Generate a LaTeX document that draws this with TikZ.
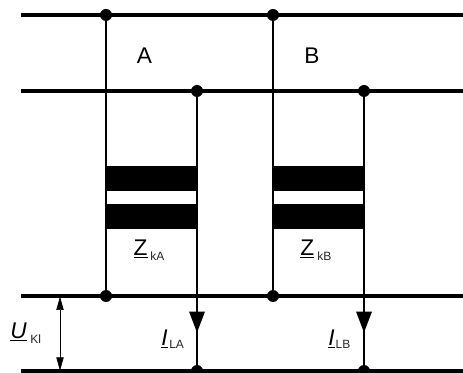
\documentclass[tikz,border=0pt]{standalone}
\usepackage{fontspec}
\setmainfont{Liberation Sans}
\usetikzlibrary{arrows,positioning}
\usetikzlibrary{arrows.meta}
\begin{document}
\begin{tikzpicture}[x=1pt,y=-1pt,>=latex',every node/.append style={align=center},
    bus/.style={line width=2.4pt},wire/.style={line width=1.6pt},
    dot/.style={circle,fill=black,inner sep=0pt,minimum size=9pt},
    plate/.style={fill=black,inner sep=0pt,minimum width=69pt,minimum height=18.75pt},
    lbl/.style={inner sep=0pt,anchor=base west,font=\fontsize{17}{19}\selectfont},
    sublbl/.style={inner sep=0pt,anchor=base west,font=\fontsize{9}{10}\selectfont,text=black!85},
    current/.style={-{Triangle[length=15.75pt,width=11.5pt]}}]
    \useasboundingbox (0,0) rectangle (347.25,279.75);
    % buses
    \coordinate (L1) at (15.75,11.25);
    \coordinate (R1) at (347.25,11.25);
    \coordinate (L2) at (15.75,68.25);
    \coordinate (R2) at (347.25,68.25);
    \coordinate (L3) at (15.75,222);
    \coordinate (R3) at (347.25,222);
    \coordinate (L4) at (15.75,278.25);
    \coordinate (R4) at (347.25,278.25);
    \draw[bus] (L1) -- (R1);
    \draw[bus] (L2) -- (R2);
    \draw[bus] (L3) -- (R3);
    \draw[bus] (L4) -- (R4);
    % branch A
    \node [dot] (A1) at (79.5,11.25) {};
    \node [dot] (A2) at (147.75,68.25) {};
    \node [dot] (A3) at (79.5,222) {};
    \node [dot] (A4) at (147.75,278.25) {};
    \node [plate] (Pa1) at (113.625,133.65) {};
    \node [plate] (Pa2) at (113.625,162.4) {};
    \draw[wire] (A1) -- (A3);
    \draw[wire] (A2) -- (A4);
    \coordinate (Ma) at (147.75,249.5);
    \draw[wire,current] (A2) -- (Ma);
    % branch B
    \node [dot] (B1) at (204.75,11.25) {};
    \node [dot] (B2) at (273,68.25) {};
    \node [dot] (B3) at (204.75,222) {};
    \node [dot] (B4) at (273,278.25) {};
    \node [plate] (Pb1) at (238.875,133.65) {};
    \node [plate] (Pb2) at (238.875,162.4) {};
    \draw[wire] (B1) -- (B3);
    \draw[wire] (B2) -- (B4);
    \coordinate (Mb) at (273,249.5);
    \draw[wire,current] (B2) -- (Mb);
    % labels
    \node [lbl] (TA) at (102.5,48) {A};
    \node [lbl] (TB) at (228,48) {B};
    \node [lbl] (Za) at (100.1,191.5) {\underline{Z}};
    \node [sublbl] (Zak) at (112.5,195.75) {kA};
    \node [lbl] (Zb) at (225,191.5) {\underline{Z}};
    \node [sublbl] (Zbk) at (237.75,195.75) {kB};
    \node [lbl] (Ia) at (120.75,258.75) {\underline{\textit{I}}};
    \node [sublbl] (Ial) at (126.75,261) {LA};
    \node [lbl] (Ib) at (246,258.75) {\underline{\textit{I}}};
    \node [sublbl] (Ibl) at (251.6,261) {LB};
    \node [lbl] (Uk) at (7.5,253.5) {\underline{\textit{U}}};
    \node [sublbl] (Ukl) at (22.5,257.25) {Kl};
    % voltage arrow
    \coordinate (Ut) at (45,222.5);
    \coordinate (Ub) at (45,278);
    \draw[line width=0.5pt,{Triangle[length=10pt,width=5.5pt]}-{Triangle[length=10pt,width=5.5pt]}] (Ut) -- (Ub);
\end{tikzpicture}
\end{document}
